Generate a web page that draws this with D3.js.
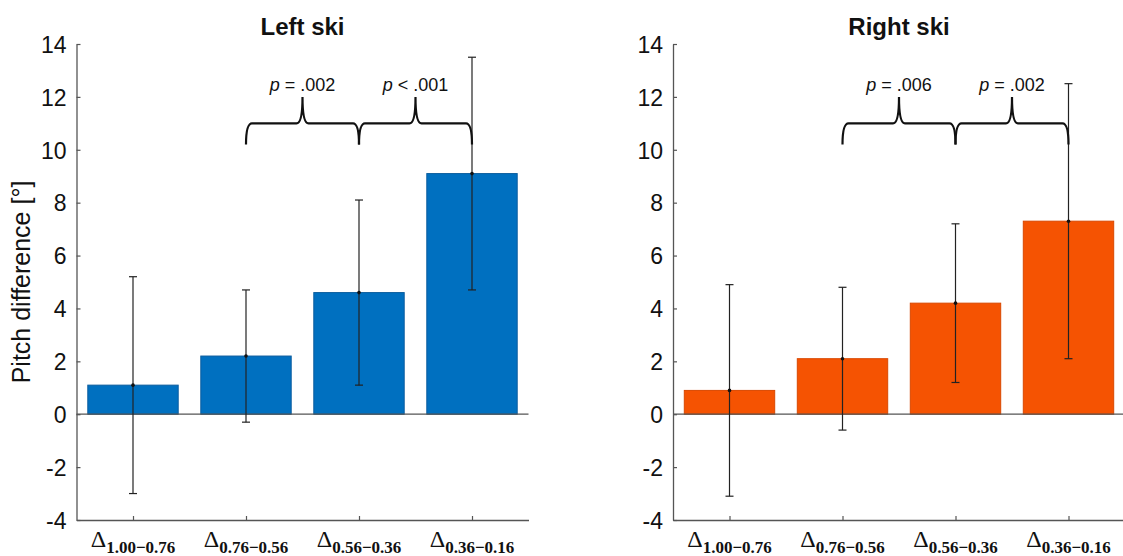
<!DOCTYPE html>
<html>
<head>
<meta charset="utf-8">
<script src="https://cdn.jsdelivr.net/npm/d3@7"></script>
<style>
  html, body { margin: 0; padding: 0; background: #fff; }
  svg { display: block; }
</style>
</head>
<body>
<svg id="chart" width="1123" height="556"></svg>
<script>
// Pitch difference per phase interval, left and right ski (mean ± SD)
const categories = ["1.00\u22120.76", "0.76\u22120.56", "0.56\u22120.36", "0.36\u22120.16"];
const leftMeans  = [1.1, 2.2, 4.6, 9.1];
const leftSD     = [4.1, 2.5, 3.5, 4.4];
const rightMeans = [0.9, 2.1, 4.2, 7.3];
const rightSD    = [4.0, 2.7, 3.0, 5.2];
const yTicks = [-4, -2, 0, 2, 4, 6, 8, 10, 12, 14];

// significance braces: [from category, to category, relation, value]
const leftTests  = [[2, 3, "=", ".002"], [3, 4, "<", ".001"]];
const rightTests = [[2, 3, "=", ".006"], [3, 4, "=", ".002"]];
const braceLevels = { end: 10.2, line: 11.0, tip: 12.0, label: 12.5 };

const svg = d3.select("#chart");
const axisColor = "#555";

function panel(opts) {
  const g = svg.append("g");
  const x = d3.scaleLinear().domain([0.5, 4.5]).range([opts.x0, opts.x0 + 452]);
  const y = d3.scaleLinear().domain([-4, 14]).range([520, 44]);
  const barW = x(1.4) - x(0.6);

  // title
  g.append("text")
    .attr("x", (x(0.5) + x(4.5)) / 2)
    .attr("y", 35)
    .attr("text-anchor", "middle")
    .attr("font-family", "Liberation Sans, Arial, sans-serif")
    .attr("font-weight", "bold")
    .attr("font-size", 24)
    .attr("fill", "#111")
    .text(opts.title);

  const data = opts.means.map((m, i) => ({ i: i + 1, m, sd: opts.sd[i] }));

  // bars
  g.selectAll("rect.bar").data(data).enter().append("rect")
    .attr("class", "bar")
    .attr("x", d => x(d.i) - barW / 2)
    .attr("width", barW)
    .attr("y", d => y(Math.max(0, d.m)))
    .attr("height", d => Math.abs(y(d.m) - y(0)))
    .attr("fill", opts.fill)
    .attr("stroke", opts.edge)
    .attr("stroke-width", 1);

  // y axis (plain hyphen for negative numbers)
  const yAxis = d3.axisLeft(y).tickValues(yTicks).tickSize(-4).tickSizeOuter(0).tickPadding(10)
    .tickFormat(d => String(d));
  const ya = g.append("g").attr("transform", `translate(${x(0.5)},0)`).call(yAxis);
  ya.select(".domain").attr("stroke", axisColor).attr("stroke-width", 1.3);
  ya.selectAll(".tick line").attr("stroke", axisColor).attr("stroke-width", 1.2);
  ya.selectAll(".tick text")
    .attr("font-family", "Liberation Sans, Arial, sans-serif")
    .attr("font-size", 23)
    .attr("fill", "#111")
    .attr("dy", "0.36em");

  // x axis at the bottom of the range
  const xAxis = d3.axisBottom(x).tickValues([1, 2, 3, 4]).tickSize(-4).tickSizeOuter(0).tickFormat(() => "");
  const xa = g.append("g").attr("transform", `translate(0,${y(-4)})`).call(xAxis);
  xa.select(".domain").attr("stroke", axisColor).attr("stroke-width", 1.3);
  xa.selectAll(".tick line").attr("stroke", axisColor).attr("stroke-width", 1.2);

  // category labels: Δ with bold subscript
  const lbl = g.selectAll("text.cat").data(categories).enter().append("text")
    .attr("class", "cat")
    .attr("x", (d, i) => x(i + 1))
    .attr("y", 547)
    .attr("text-anchor", "middle")
    .attr("font-family", "Liberation Serif, Times New Roman, serif")
    .attr("fill", "#111");
  lbl.append("tspan").attr("font-size", 24).text("\u0394");
  lbl.append("tspan").attr("font-size", 17).attr("font-weight", "bold").attr("dy", 6).text(d => d);

  // zero baseline
  g.append("line")
    .attr("x1", x(0.5)).attr("x2", x(4.5))
    .attr("y1", y(0)).attr("y2", y(0))
    .attr("stroke", axisColor).attr("stroke-width", 1.3);

  // error bars
  const eb = g.selectAll("g.err").data(data).enter().append("g").attr("class", "err");
  eb.append("line")
    .attr("x1", d => x(d.i)).attr("x2", d => x(d.i))
    .attr("y1", d => y(d.m - d.sd)).attr("y2", d => y(d.m + d.sd))
    .attr("stroke", "#222").attr("stroke-width", 1.2);
  [-1, 1].forEach(s => {
    eb.append("line")
      .attr("x1", d => x(d.i) - 4).attr("x2", d => x(d.i) + 4)
      .attr("y1", d => y(d.m + s * d.sd)).attr("y2", d => y(d.m + s * d.sd))
      .attr("stroke", "#222").attr("stroke-width", 1.2);
  });
  eb.append("circle")
    .attr("cx", d => x(d.i)).attr("cy", d => y(d.m)).attr("r", 1.8)
    .attr("fill", "#111");

  // significance braces
  opts.tests.forEach(([a, b, rel, val]) => {
    const x0 = x(a), x1 = x(b), xm = (x0 + x1) / 2;
    const yE = y(braceLevels.end), yL = y(braceLevels.line), yT = y(braceLevels.tip);
    const r = 6;
    const p = d3.path();
    p.moveTo(x0, yE);
    p.quadraticCurveTo(x0, yL, x0 + r, yL);
    p.lineTo(xm - r, yL);
    p.quadraticCurveTo(xm, yL, xm, yT);
    p.quadraticCurveTo(xm, yL, xm + r, yL);
    p.lineTo(x1 - r, yL);
    p.quadraticCurveTo(x1, yL, x1, yE);
    g.append("path").attr("d", p.toString())
      .attr("fill", "none").attr("stroke", "#111").attr("stroke-width", 2.2);

    const t = g.append("text")
      .attr("x", xm).attr("y", y(braceLevels.label) + 7)
      .attr("text-anchor", "middle")
      .attr("font-family", "Liberation Sans, Arial, sans-serif")
      .attr("font-size", 18)
      .attr("fill", "#111");
    t.append("tspan").attr("font-style", "italic").text("p");
    t.append("tspan").text(` ${rel} ${val}`);
  });
}

panel({ x0: 76.5, title: "Left ski", means: leftMeans, sd: leftSD, fill: "#0070C0", edge: "#0b5d9e", tests: leftTests });
panel({ x0: 673, title: "Right ski", means: rightMeans, sd: rightSD, fill: "#F55302", edge: "#d94800", tests: rightTests });

// shared y-axis label
svg.append("text")
  .attr("transform", "translate(30,282) rotate(-90)")
  .attr("text-anchor", "middle")
  .attr("font-family", "Liberation Sans, Arial, sans-serif")
  .attr("font-size", 25)
  .attr("fill", "#111")
  .text("Pitch difference [\u00B0]");
</script>
</body>
</html>
